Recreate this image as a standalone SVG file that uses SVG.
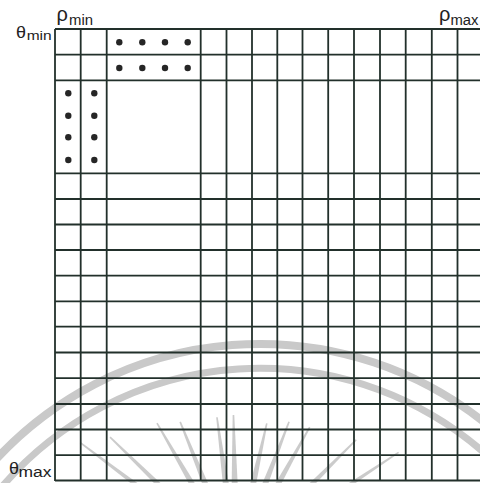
<svg xmlns="http://www.w3.org/2000/svg" width="480" height="483" viewBox="0 0 480 483">
<style>
.g line{stroke:#22302b;stroke-width:1.8}
.wm{fill:none;stroke:#c9c9c9}
.ray{fill:#cbcbcb}
.dot{fill:#262626}
text{font-family:"Liberation Sans",Arial,sans-serif;fill:#222}
</style>
<rect width="480" height="483" fill="#fff"/>
<g id="watermark">
<path class="wm" stroke-width="8" d="M -10 466 A 360 360 0 0 1 490 427"/>
<path class="wm" stroke-width="7" d="M 0 489 A 340 340 0 0 1 490 458"/>
<g transform="translate(236,560)">
<polygon class="ray" transform="rotate(-53)" points="-0.8,-195 0.8,-195 3.2,-70 -3.2,-70"/>
<polygon class="ray" transform="rotate(-45.7)" points="-0.8,-176 0.8,-176 3.2,-70 -3.2,-70"/>
<polygon class="ray" transform="rotate(-30)" points="-0.8,-158 0.8,-158 3.2,-70 -3.2,-70"/>
<polygon class="ray" transform="rotate(-22)" points="-0.8,-149 0.8,-149 3.2,-70 -3.2,-70"/>
<polygon class="ray" transform="rotate(-7.6)" points="-0.8,-144 0.8,-144 3.2,-70 -3.2,-70"/>
<polygon class="ray" transform="rotate(-1)" points="-0.8,-145 0.8,-145 3.2,-70 -3.2,-70"/>
<polygon class="ray" transform="rotate(12.7)" points="-0.8,-140 0.8,-140 3.2,-70 -3.2,-70"/>
<polygon class="ray" transform="rotate(21)" points="-0.8,-148 0.8,-148 3.2,-70 -3.2,-70"/>
<polygon class="ray" transform="rotate(29)" points="-0.8,-152 0.8,-152 3.2,-70 -3.2,-70"/>
<polygon class="ray" transform="rotate(45)" points="-0.8,-170 0.8,-170 3.2,-70 -3.2,-70"/>
<polygon class="ray" transform="rotate(56.5)" points="-0.8,-195 0.8,-195 3.2,-70 -3.2,-70"/>
</g>
</g>
<g id="grid" class="g">
<line x1="55" y1="29" x2="55" y2="481"/>
<line x1="80.7" y1="29" x2="80.7" y2="481"/>
<line x1="106.7" y1="29" x2="106.7" y2="481"/>
<line x1="200.7" y1="29" x2="200.7" y2="481"/>
<line x1="226.5" y1="29" x2="226.5" y2="481"/>
<line x1="252" y1="29" x2="252" y2="481"/>
<line x1="277.3" y1="29" x2="277.3" y2="481"/>
<line x1="302.5" y1="29" x2="302.5" y2="481"/>
<line x1="328.2" y1="29" x2="328.2" y2="481"/>
<line x1="354" y1="29" x2="354" y2="481"/>
<line x1="380" y1="29" x2="380" y2="481"/>
<line x1="405.7" y1="29" x2="405.7" y2="481"/>
<line x1="431.8" y1="29" x2="431.8" y2="481"/>
<line x1="457.5" y1="29" x2="457.5" y2="481"/>
<line x1="55" y1="29" x2="490" y2="29"/>
<line x1="55" y1="54.7" x2="490" y2="54.7"/>
<line x1="55" y1="80.3" x2="490" y2="80.3"/>
<line x1="55" y1="173.3" x2="490" y2="173.3"/>
<line x1="55" y1="199" x2="490" y2="199"/>
<line x1="55" y1="224.5" x2="490" y2="224.5"/>
<line x1="55" y1="250" x2="490" y2="250"/>
<line x1="55" y1="275.7" x2="490" y2="275.7"/>
<line x1="55" y1="301.3" x2="490" y2="301.3"/>
<line x1="55" y1="326.7" x2="490" y2="326.7"/>
<line x1="55" y1="352.5" x2="490" y2="352.5"/>
<line x1="55" y1="378.2" x2="490" y2="378.2"/>
<line x1="55" y1="404" x2="490" y2="404"/>
<line x1="55" y1="429.5" x2="490" y2="429.5"/>
<line x1="55" y1="455.2" x2="490" y2="455.2"/>
<line x1="55" y1="480.5" x2="490" y2="480.5"/>
</g>
<g id="dots-row">
<circle class="dot" cx="119.3" cy="42.3" r="3.2"/>
<circle class="dot" cx="142.3" cy="42.3" r="3.2"/>
<circle class="dot" cx="165" cy="42.3" r="3.2"/>
<circle class="dot" cx="187.7" cy="42.3" r="3.2"/>
<circle class="dot" cx="119.3" cy="68" r="3.2"/>
<circle class="dot" cx="142.3" cy="68" r="3.2"/>
<circle class="dot" cx="165" cy="68" r="3.2"/>
<circle class="dot" cx="187.7" cy="68" r="3.2"/>
</g>
<g id="dots-col">
<circle class="dot" cx="68.3" cy="93.3" r="3.2"/>
<circle class="dot" cx="68.3" cy="115.7" r="3.2"/>
<circle class="dot" cx="68.3" cy="137.3" r="3.2"/>
<circle class="dot" cx="68.3" cy="160" r="3.2"/>
<circle class="dot" cx="94.3" cy="93.3" r="3.2"/>
<circle class="dot" cx="94.3" cy="115.7" r="3.2"/>
<circle class="dot" cx="94.3" cy="137.3" r="3.2"/>
<circle class="dot" cx="94.3" cy="160" r="3.2"/>
</g>
<g id="labels">
<text x="56.5" y="21" font-size="20">ρ</text>
<text x="69" y="25" font-size="14" textLength="24" lengthAdjust="spacingAndGlyphs">min</text>
<text x="439" y="21" font-size="20">ρ</text>
<text x="450.5" y="25" font-size="14" textLength="28" lengthAdjust="spacingAndGlyphs">max</text>
<text x="16" y="38" font-size="17" textLength="10" lengthAdjust="spacingAndGlyphs">θ</text>
<text x="26.7" y="40" font-size="13" textLength="25" lengthAdjust="spacingAndGlyphs">min</text>
<text x="9" y="473.5" font-size="17" textLength="10" lengthAdjust="spacingAndGlyphs">θ</text>
<text x="18.5" y="477" font-size="14" textLength="33" lengthAdjust="spacingAndGlyphs">max</text>
</g>
</svg>
